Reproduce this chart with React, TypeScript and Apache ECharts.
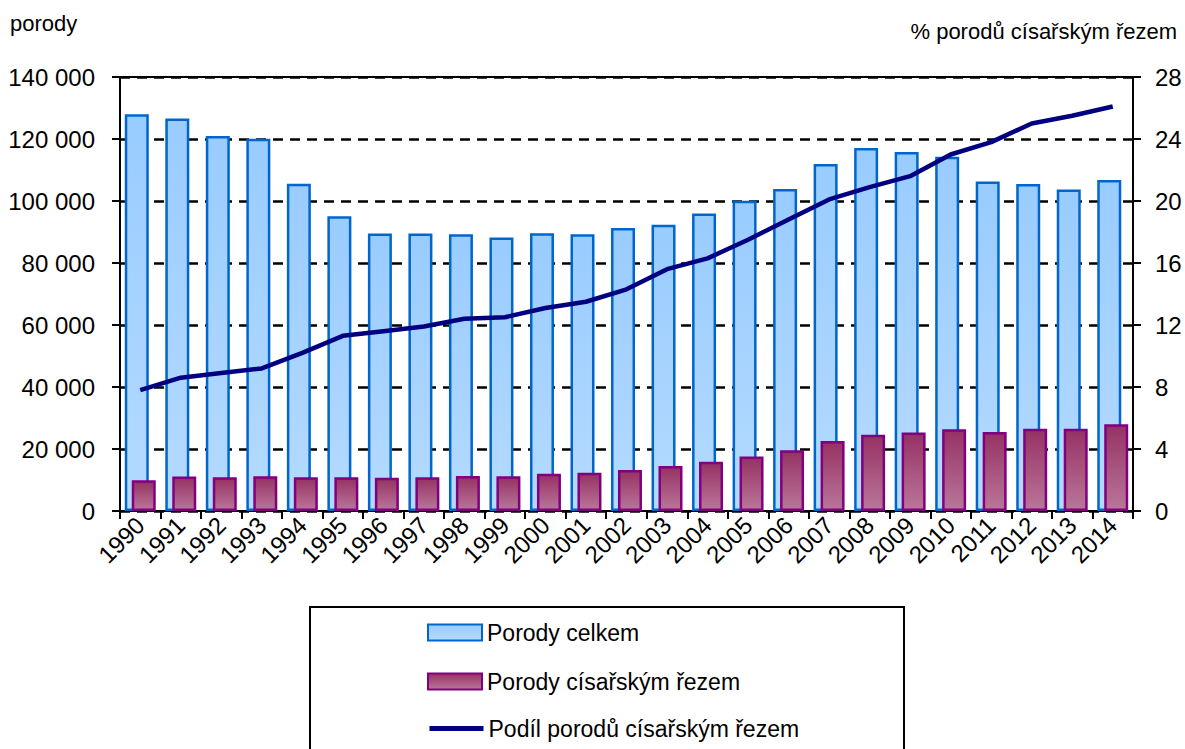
import React, { useEffect, useRef } from "react";
import * as echarts from "echarts";

const years = ["1990","1991","1992","1993","1994","1995","1996","1997","1998","1999","2000","2001","2002","2003","2004","2005","2006","2007","2008","2009","2010","2011","2012","2013","2014"];
const porodyCelkem = [128000,126600,121000,120100,105600,95100,89500,89500,89300,88200,89600,89300,91300,92300,96000,100100,103900,111900,117100,115800,114300,106300,105500,103700,106800];
const porodyCisarskym = [9900,11100,10900,11200,10900,10900,10700,10900,11300,11200,12000,12300,13200,14500,15900,17600,19600,22600,24600,25300,26400,25500,26500,26500,28000];
const podil = [7.8,8.6,8.9,9.2,10.2,11.3,11.6,11.9,12.4,12.5,13.1,13.5,14.3,15.6,16.3,17.5,18.8,20.1,20.9,21.6,23.0,23.8,25.0,25.5,26.1];

const seriesNames = ["Porody celkem", "Porody císařským řezem", "Podíl porodů císařským řezem"];
const leftAxisTitle = "porody";
const rightAxisTitle = "% porodů císařským řezem";

const FONT = "'Liberation Sans Narrow', 'Arial Narrow', 'Liberation Sans', Arial, sans-serif";

export default function App() {
  const ref = useRef<HTMLDivElement>(null);
  useEffect(() => {
    if (!ref.current) return;
    const chart = echarts.init(ref.current, null, { renderer: "svg" });
    const blueFill = new echarts.graphic.LinearGradient(0, 0, 0, 1, [
      { offset: 0, color: "#99CCFF" },
      { offset: 1, color: "#B5DAFF" },
    ]);
    const magentaFill = new echarts.graphic.LinearGradient(0, 0, 0, 1, [
      { offset: 0, color: "#963264" },
      { offset: 1, color: "#BA7699" },
    ]);
    const fmt = (v: number) => {
      if (v === 0) return "0";
      const s = String(v);
      return s.length > 3 ? s.slice(0, s.length - 3) + " " + s.slice(-3) : s;
    };
    const legendBase = {
      orient: "vertical",
      left: 427,
      padding: 0,
      itemWidth: 54, itemHeight: 16,
      textStyle: { fontFamily: FONT, fontSize: 23, color: "#000" },
    };
    chart.setOption({
      animation: false,
      textStyle: { fontFamily: FONT },
      grid: {
        left: 120, right: 52, top: 77, bottom: 238,
        show: true, borderColor: "#000", borderWidth: 2,
      },
      legend: [
        { ...legendBase, top: 621, data: [{ name: seriesNames[0], icon: "rect" }] },
        { ...legendBase, top: 670, data: [{ name: seriesNames[1], icon: "rect" }] },
        {
          ...legendBase, top: 717,
          data: [{
            name: seriesNames[2],
            itemStyle: { color: "rgba(0,0,0,0)", borderColor: "rgba(0,0,0,0)", borderWidth: 0, opacity: 0 },
            lineStyle: { color: "#000080", width: 5 },
          }],
        },
      ],
      graphic: [
        { type: "rect", shape: { x: 310, y: 607, width: 594, height: 170 }, style: { fill: "none", stroke: "#000", lineWidth: 2 }, z: -1 },
        { type: "text", left: 10, top: 12, style: { text: leftAxisTitle, font: `22px ${FONT}`, fill: "#000" } },
        { type: "text", right: 8, top: 20, style: { text: rightAxisTitle, font: `22px ${FONT}`, fill: "#000" } },
      ],
      xAxis: {
        type: "category",
        data: years,
        boundaryGap: true,
        axisLine: { lineStyle: { color: "#000", width: 2 } },
        axisTick: { show: true, length: 8, lineStyle: { color: "#000", width: 2 } },
        axisLabel: { rotate: 45, fontSize: 24, color: "#000", margin: 10, fontFamily: FONT, interval: 0 },
      },
      yAxis: [
        {
          type: "value", min: 0, max: 140000, interval: 20000,
          axisLine: { show: true, lineStyle: { color: "#000", width: 2 } },
          axisTick: { show: true, length: 8, lineStyle: { color: "#000", width: 2 } },
          axisLabel: { fontSize: 24, color: "#000", margin: 25, formatter: fmt, fontFamily: FONT },
          splitLine: { show: true, lineStyle: { color: "#000", width: 2.5, type: [10, 7] } },
        },
        {
          type: "value", min: 0, max: 28, interval: 4,
          axisLine: { show: true, lineStyle: { color: "#000", width: 2 } },
          axisTick: { show: true, length: 8, lineStyle: { color: "#000", width: 2 } },
          axisLabel: { fontSize: 24, color: "#000", margin: 22, fontFamily: FONT },
          splitLine: { show: false },
        },
      ],
      series: [
        {
          name: seriesNames[0], type: "bar", data: porodyCelkem, barWidth: 24, barGap: "-71%",
          itemStyle: { color: blueFill, borderColor: "#0066CC", borderWidth: 2.5 },
          z: 2,
        },
        {
          name: seriesNames[1], type: "bar", data: porodyCisarskym, barWidth: 24,
          itemStyle: { color: magentaFill, borderColor: "#800080", borderWidth: 2.5 },
          z: 3,
        },
        {
          name: seriesNames[2], type: "line", yAxisIndex: 1, data: podil,
          symbol: "none", showSymbol: false,
          lineStyle: { color: "#000080", width: 4.5 },
          itemStyle: { color: "#000080" },
          z: 4,
        },
      ],
    });
    return () => chart.dispose();
  }, []);
  return <div ref={ref} style={{ position: "absolute", left: 0, top: 0, width: 1185, height: 749 }} />;
}
